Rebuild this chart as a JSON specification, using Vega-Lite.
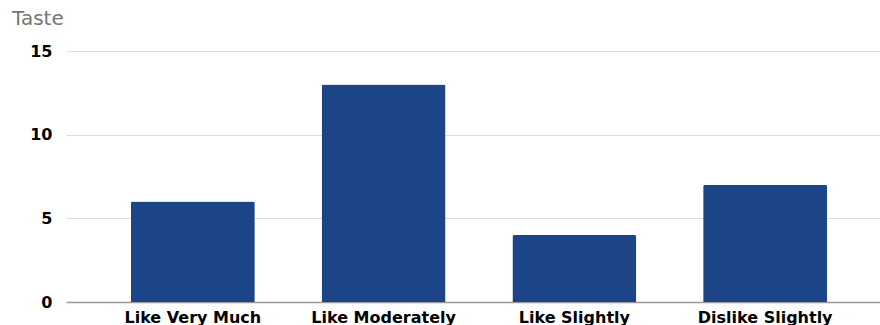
{
  "$schema": "https://vega.github.io/schema/vega-lite/v6.json",
  "autosize": "none",
  "width": 826,
  "height": 251,
  "padding": {"left": 66, "top": 51, "right": 0, "bottom": 24},
  "background": "white",
  "title": {
    "text": "Taste",
    "anchor": "start",
    "frame": "group",
    "dx": -54,
    "offset": 14,
    "font": "DejaVu Sans",
    "fontSize": 20,
    "fontWeight": "normal",
    "color": "#757575"
  },
  "data": {
    "values": [
      {"taste": "Like Very Much", "count": 6},
      {"taste": "Like Moderately", "count": 13},
      {"taste": "Like Slightly", "count": 4},
      {"taste": "Dislike Slightly", "count": 7}
    ]
  },
  "mark": {"type": "bar", "color": "#1c4587", "cornerRadiusTopLeft": 2, "cornerRadiusTopRight": 2},
  "encoding": {
    "x": {
      "field": "taste",
      "type": "nominal",
      "sort": null,
      "scale": {"paddingInner": 0.35, "paddingOuter": 0.34},
      "axis": {
        "title": null,
        "labelAngle": 0,
        "labelFont": "DejaVu Sans",
        "labelFontSize": 16,
        "labelFontWeight": "bold",
        "labelColor": "#000000",
        "labelPadding": 7,
        "ticks": false,
        "domainColor": "#999999",
        "domainWidth": 1.5,
        "grid": false
      }
    },
    "y": {
      "field": "count",
      "type": "quantitative",
      "scale": {"domain": [0, 15]},
      "axis": {
        "title": null,
        "values": [0, 5, 10, 15],
        "labelFont": "DejaVu Sans",
        "labelFontSize": 16,
        "labelFontWeight": "bold",
        "labelColor": "#000000",
        "labelPadding": 14,
        "ticks": false,
        "domain": false,
        "gridColor": "#dddddd",
        "gridWidth": 1
      }
    }
  },
  "config": {"view": {"stroke": null}}
}
